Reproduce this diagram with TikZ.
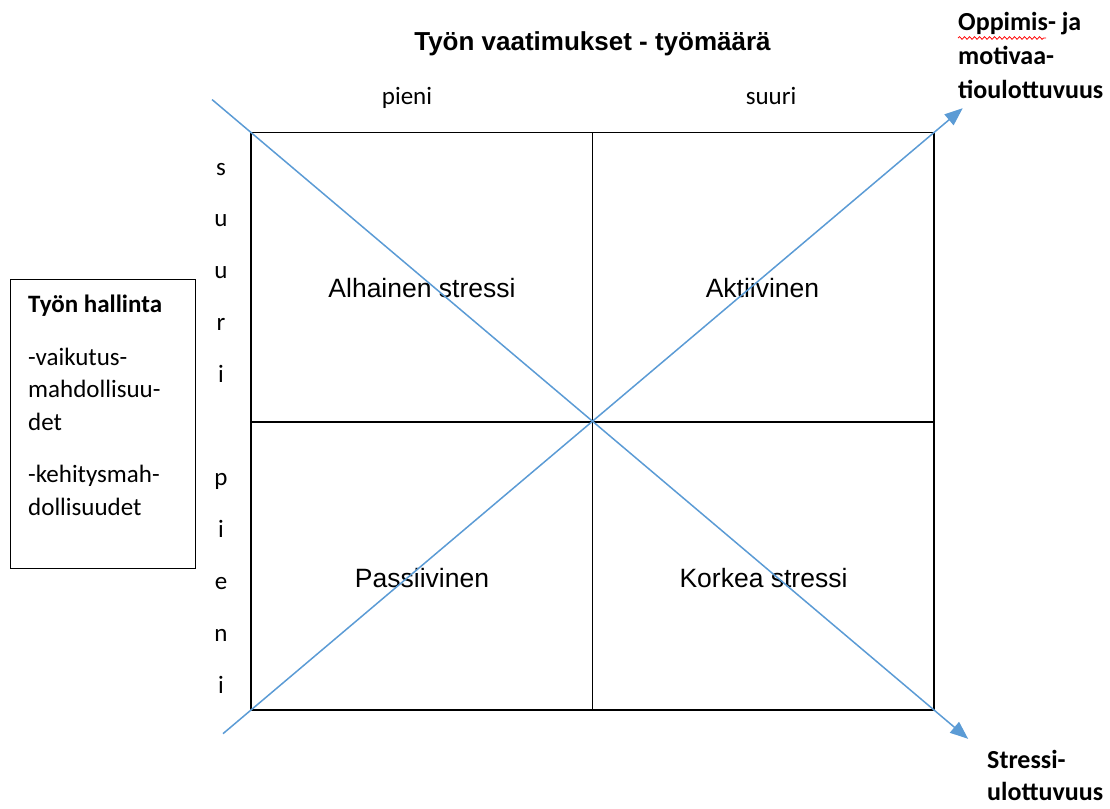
\documentclass[tikz,border=0pt]{standalone}
\usepackage{fontspec}
\setmainfont{Liberation Sans}
\newfontfamily\calibri{Carlito}
\usetikzlibrary{calc,arrows.meta,decorations.pathmorphing}
\definecolor{axisblue}{RGB}{91,155,213}
\tikzset{%
  cell/.style={anchor=base,inner sep=0,font=\fontsize{26.5}{31}\selectfont},
  clabel/.style={anchor=base,inner sep=0,font=\calibri\fontsize{25}{30}\selectfont},
  dimlabel/.style={anchor=base west,inner sep=0,align=left,font=\calibri\bfseries\fontsize{26}{34}\selectfont},
  gridline/.style={draw=black,line width=1.8pt},
  axisarrow/.style={draw=axisblue,line width=1.5pt,-{Triangle[length=18pt,width=14pt]}}
}

\begin{document}
\begin{tikzpicture}[x=1pt,y=-1pt]
    \useasboundingbox (0,0) rectangle (1110,808);
    \coordinate (tl) at (251,132.5);
    \coordinate (tr) at (934,132.5);
    \coordinate (bl) at (251,710);
    \coordinate (br) at (934,710);
    \coordinate (tm) at ($(tl)!0.5!(tr)$);
    \coordinate (bm) at ($(bl)!0.5!(br)$);
    \coordinate (ml) at (251,422);
    \coordinate (mr) at (934,422);
    \coordinate (stressstart) at ($(tl)!-0.057!(br)$);
    \coordinate (stresstip) at ($(tl)!1.05!(br)$);
    \coordinate (oppimisstart) at ($(bl)!-0.041!(tr)$);
    \coordinate (oppimistip) at ($(bl)!1.042!(tr)$);
    \path[gridline] (tl) rectangle (br);
    \path[gridline] (tm) -- (bm);
    \path[gridline] (ml) -- (mr);
    \node[anchor=base,inner sep=0,font=\bfseries\fontsize{26}{31}\selectfont] (vaatimukset) at (592.5,51) {Työn vaatimukset - työmäärä};
    \node[clabel] (pieniylä) at (407,104) {pieni};
    \node[clabel] (suuriylä) at (771,104) {suuri};
    \foreach \ch [count=\k from 0] in {s,u,u,r,i}
      \node[clabel] (suuri\k) at (221,175+51.8*\k) {\ch};
    \foreach \ch [count=\k from 0] in {p,i,e,n,i}
      \node[clabel] (pieni\k) at (221,485.8+51.8*\k) {\ch};
    \node[cell] (alhainen) at (422,297) {Alhainen stressi};
    \node[cell] (aktiivinen) at (762.5,297) {Aktiivinen};
    \node[cell] (passiivinen) at (422,587) {Passiivinen};
    \node[cell] (korkea) at (763.5,587) {Korkea stressi};
    \node[draw,line width=1.2pt,anchor=north west,minimum width=185,minimum height=289,inner sep=0] (hallinta) at (10,279) {};
    \node[anchor=base west,inner sep=0,align=left,font=\calibri\fontsize{25}{32.5}\selectfont] (hallintateksti) at (28,515)
      {\textbf{Työn hallinta}\\[20pt]-vaikutus-\\mahdollisuu-\\det\\[20pt]-kehitysmah-\\dollisuudet};
    \node[dimlabel] (oppimis) at (958,98) {Oppimis- ja\\motivaa-\\tioulottuvuus};
    \node[dimlabel,font=\calibri\bfseries\fontsize{26}{32}\selectfont] (stressi) at (987,800) {Stressi-\\ulottuvuus};
    \draw[red,line width=0.8pt,decorate,decoration={snake,amplitude=1.3pt,segment length=5pt}] (958,38) -- (1046,38);
    \path[axisarrow] (stressstart) -- (stresstip);
    \path[axisarrow] (oppimisstart) -- (oppimistip);
\end{tikzpicture}
\end{document}
